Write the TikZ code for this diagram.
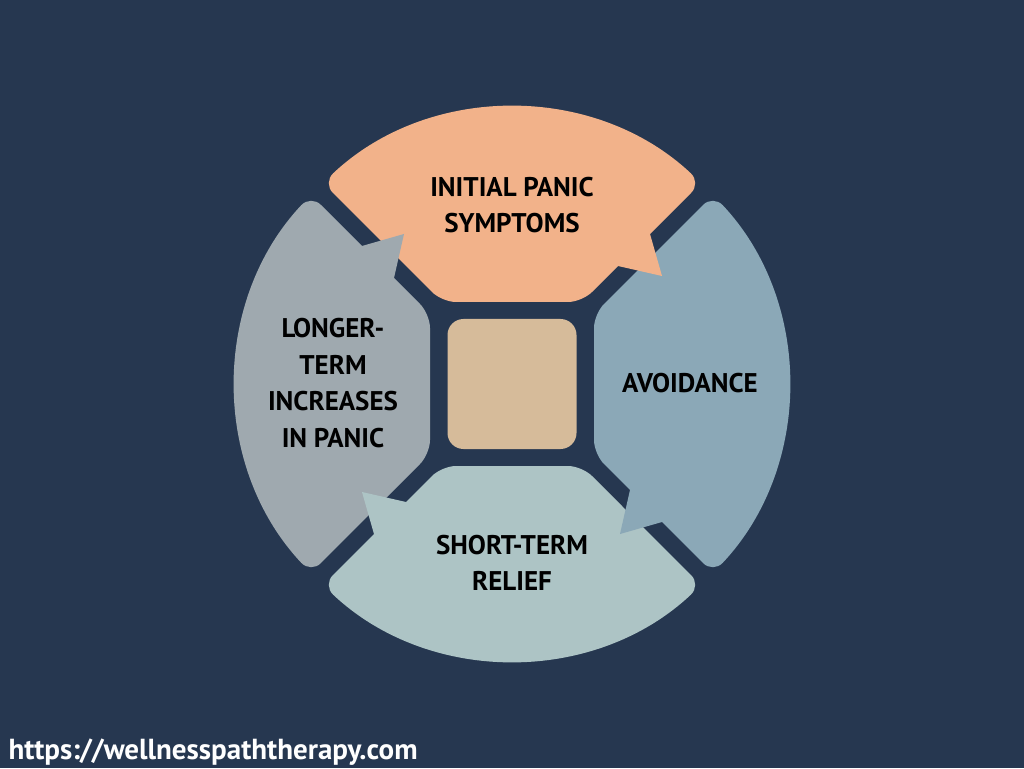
\documentclass[tikz,border=0pt]{standalone}
\usepackage{fontspec}
\setmainfont{PT Sans}
\usetikzlibrary{calc}

\definecolor{navy}{HTML}{263750}
\definecolor{peach}{HTML}{F2B28A}
\definecolor{steel}{HTML}{8BA8B7}
\definecolor{mist}{HTML}{ADC4C5}
\definecolor{slate}{HTML}{9FA9AF}
\definecolor{sand}{HTML}{D6BB9A}

\tikzset{
  cycletext/.style={font=\fontsize{27}{36.5}\selectfont\bfseries, align=center, text=black},
  linktext/.style={font=\fontsize{29}{33}\selectfont\bfseries, text=white, anchor=base west},
}

\begin{document}
\begin{tikzpicture}[x=1pt, y=1pt]
    % Define the background
    \fill[navy] (-512,-384) rectangle (512,384);
    \useasboundingbox (-512,-384) rectangle (512,384);

    % Draw the four ring pieces (the top one, turned clockwise)
    \foreach \ang/\col in {0/peach, -90/steel, -180/mist, -270/slate}{
        \fill[\col, rotate=\ang, rounded corners=14]
            (70,82) -- (189.07,201.07)
            arc[start angle=46.76, end angle=133.24, radius=276]
            -- (-70,82) -- cycle;
    }

    % Draw the arrow tips over the next piece
    \foreach \ang/\col in {0/peach, -90/steel, -180/mist, -270/slate}{
        \fill[\col, rotate=\ang] (100,124) -- (106,118) -- (150,108) -- (138,150) -- (132,156) -- cycle;
    }

    % Draw the middle square
    \fill[sand, rounded corners=16] (-64.5,-65) rectangle (64.5,65);

    % Label the pieces
    \node[cycletext] (initial) at (0,179) {INITIAL PANIC\\SYMPTOMS};
    \node[cycletext] (avoid) at (178,1) {AVOIDANCE};
    \node[cycletext] (relief) at (0,-179) {SHORT-TERM\\RELIEF};
    \node[cycletext] (longer) at (-179,1) {LONGER-\\TERM\\INCREASES\\IN PANIC};

    % Web address
    \node[linktext] (site) at (-507,-375) {https://wellnesspaththerapy.com};
\end{tikzpicture}
\end{document}
